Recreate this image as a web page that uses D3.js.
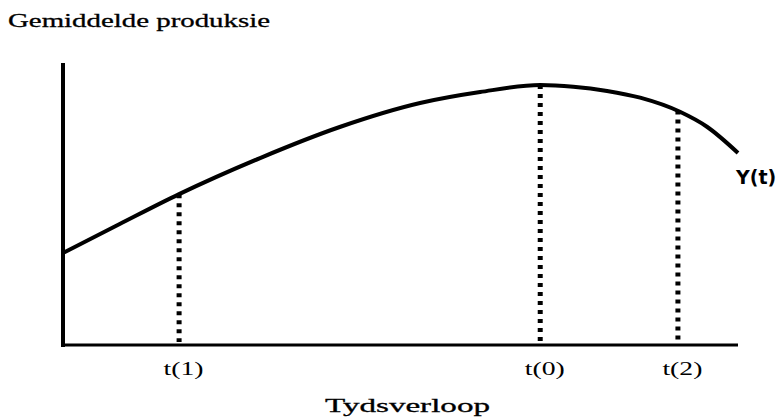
<!DOCTYPE html>
<html>
<head>
<meta charset="utf-8">
<script src="https://cdn.jsdelivr.net/npm/d3@7"></script>
<style>
  body { margin: 0; background: #fff; }
  svg { display: block; }
</style>
</head>
<body>
<div id="chart"></div>
<script>
// curve Y(t): time (0-100 along the axis) and production (0-100 up the axis)
var timeVals = [0, 8.4, 17.2, 29.2, 41.0, 52.9, 61.8, 70.7, 75.6, 80.6, 85.5, 91.4, 95.4, 100];
var prodVals = [32.6, 42.9, 53.5, 66.3, 77.3, 85.8, 89.7, 92.2, 91.6, 90.1, 87.7, 82.7, 77.4, 68.1];

// marked moments on the time axis
var markLabels = ["t(1)", "t(0)", "t(2)"];
var markTimes = [17.2, 70.7, 91.1];
var markProd = [53.5, 92.2, 83.2];

var svg = d3.select("#chart").append("svg").attr("width", 782).attr("height", 418);

var x = d3.scaleLinear().domain([0, 100]).range([63, 738]);
var y = d3.scaleLinear().domain([0, 100]).range([345, 63]);

// axes
var xAxis = d3.axisBottom(x).tickValues(markTimes)
  .tickFormat(function(d, i) { return markLabels[i]; })
  .tickSize(0).tickSizeOuter(0);
var gx = svg.append("g").attr("transform", "translate(0,345)").call(xAxis);
gx.select(".domain").attr("stroke", "#000").attr("stroke-width", 3)
  .attr("d", "M" + (x(0) - 2) + ",0H" + x(100));
gx.selectAll("text")
  .attr("font-family", "Liberation Serif, Times New Roman, serif")
  .attr("font-size", 19).attr("fill", "#000")
  .attr("dx", 4).attr("dy", 0).attr("y", 30)
  .attr("textLength", 40).attr("lengthAdjust", "spacingAndGlyphs");

var yAxis = d3.axisLeft(y).tickValues([]).tickSizeOuter(0);
var gy = svg.append("g").attr("transform", "translate(63,0)").call(yAxis);
gy.select(".domain").attr("stroke", "#000").attr("stroke-width", 4)
  .attr("d", "M0," + (y(0) + 2) + "V" + y(100));

// dotted drop lines
svg.selectAll(".drop").data(markTimes).enter().append("line")
  .attr("class", "drop")
  .attr("x1", function(d) { return x(d); })
  .attr("x2", function(d) { return x(d); })
  .attr("y1", function(d, i) { return y(markProd[i]); })
  .attr("y2", y(0) - 3)
  .attr("stroke", "#000").attr("stroke-width", 5)
  .attr("stroke-dasharray", "4 5");

// the curve
var pts = timeVals.map(function(t, i) { return [t, prodVals[i]]; });
var line = d3.line()
  .x(function(d) { return x(d[0]); })
  .y(function(d) { return y(d[1]); })
  .curve(d3.curveMonotoneX);
svg.append("path").datum(pts)
  .attr("d", line).attr("fill", "none")
  .attr("stroke", "#000").attr("stroke-width", 4);

// texts
svg.append("text").text("Gemiddelde produksie")
  .attr("x", 8).attr("y", 27)
  .attr("font-family", "Liberation Serif, Times New Roman, serif").attr("font-size", 19)
  .attr("stroke", "#000").attr("stroke-width", 0.3)
  .attr("textLength", 262).attr("lengthAdjust", "spacingAndGlyphs");

svg.append("text").text("Tydsverloop")
  .attr("x", 325).attr("y", 412)
  .attr("font-family", "Liberation Serif, Times New Roman, serif").attr("font-size", 19)
  .attr("stroke", "#000").attr("stroke-width", 0.3)
  .attr("textLength", 165).attr("lengthAdjust", "spacingAndGlyphs");

svg.append("text").text("Y(t)")
  .attr("x", 736).attr("y", 184)
  .attr("font-family", "DejaVu Sans, sans-serif").attr("font-weight", "bold")
  .attr("font-size", 19);
</script>
</body>
</html>
